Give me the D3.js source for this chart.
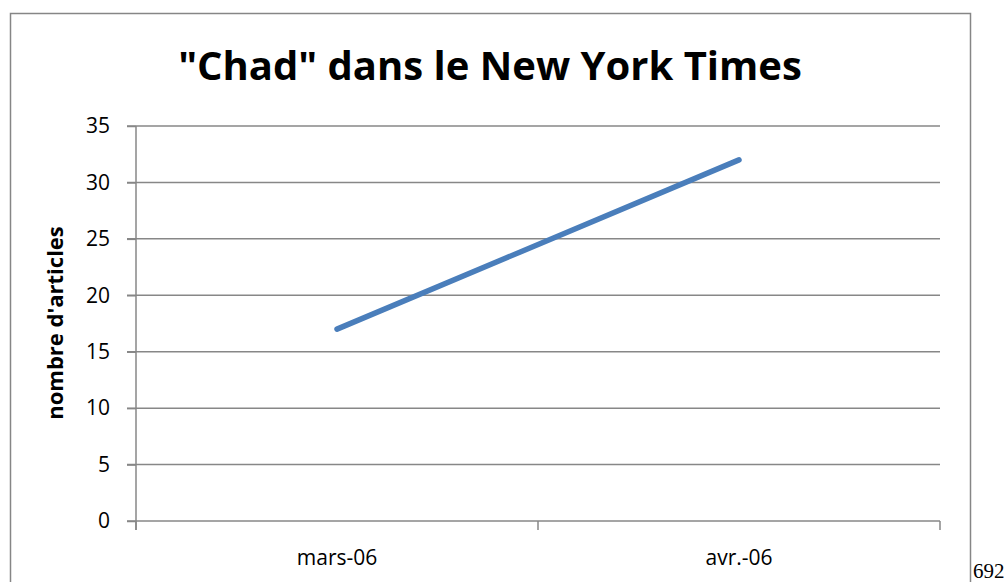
<!DOCTYPE html>
<html>
<head>
<script src="https://d3js.org/d3.v7.min.js"></script>
<style>
  body { margin: 0; background: #fff; }
</style>
</head>
<body>
<div id="container"></div>
<script>
var categories = ["mars-06", "avr.-06"];
var articles = [17, 32];
var yTicks = [0, 5, 10, 15, 20, 25, 30, 35];

var width = 1008, height = 582;
var plotLeft = 136, plotRight = 940, plotTop = 126, plotBottom = 521;
var font = "'Open Sans', sans-serif";

var svg = d3.select("#container").append("svg")
  .attr("width", width)
  .attr("height", height);

// chart frame
svg.append("rect")
  .attr("x", 10.5).attr("y", 13.5)
  .attr("width", 960).attr("height", 570)
  .attr("fill", "#fff")
  .attr("stroke", "#868686")
  .attr("stroke-width", 1.5);

var x = d3.scaleBand().domain(categories).range([plotLeft, plotRight]);
var y = d3.scaleLinear().domain([0, 35]).range([plotBottom, plotTop]);

// gridlines
svg.append("g")
  .selectAll("line")
  .data(yTicks)
  .enter().append("line")
  .attr("x1", plotLeft - 9).attr("x2", plotRight)
  .attr("y1", function(d) { return y(d); })
  .attr("y2", function(d) { return y(d); })
  .attr("stroke", "#878787")
  .attr("stroke-width", 1.5);

// y axis
var yAxis = svg.append("g")
  .attr("transform", "translate(" + plotLeft + ",0)")
  .call(d3.axisLeft(y).tickValues(yTicks).tickSize(9).tickPadding(17));
yAxis.select(".domain").remove();
yAxis.append("line")
  .attr("y1", plotTop).attr("y2", plotBottom + 9)
  .attr("stroke", "#878787").attr("stroke-width", 1.5);
yAxis.selectAll(".tick line").attr("stroke", "#878787").attr("stroke-width", 1.5);
yAxis.selectAll("text")
  .attr("fill", "#000")
  .style("font-family", font)
  .style("font-size", "21px");

// x axis
var xAxis = svg.append("g")
  .attr("transform", "translate(0," + plotBottom + ")")
  .call(d3.axisBottom(x).tickSize(0).tickPadding(29));
xAxis.select(".domain").remove();
xAxis.selectAll("text")
  .attr("fill", "#000")
  .style("font-family", font)
  .style("font-size", "21px");
var xEdges = [plotLeft].concat(categories.map(function(c) { return x(c) + x.bandwidth(); }));
xAxis.selectAll(".edge")
  .data(xEdges)
  .enter().append("line")
  .attr("x1", function(d) { return d; })
  .attr("x2", function(d) { return d; })
  .attr("y1", 0).attr("y2", 9)
  .attr("stroke", "#878787").attr("stroke-width", 1.5);

// line
var line = d3.line()
  .x(function(d, i) { return x(categories[i]) + x.bandwidth() / 2; })
  .y(function(d) { return y(d); });

svg.append("path")
  .datum(articles)
  .attr("d", line)
  .attr("fill", "none")
  .attr("stroke", "#4a7ebb")
  .attr("stroke-width", 5.5)
  .attr("stroke-linecap", "round");

// title
svg.append("text")
  .attr("x", 490).attr("y", 80)
  .attr("text-anchor", "middle")
  .style("font-family", font)
  .style("font-weight", "bold")
  .style("font-size", "40px")
  .text("\"Chad\" dans le New York Times");

// y axis label
svg.append("text")
  .attr("transform", "translate(63,323) rotate(-90)")
  .attr("text-anchor", "middle")
  .style("font-family", font)
  .style("font-weight", "bold")
  .style("font-size", "22px")
  .text("nombre d'articles");

// page number
svg.append("text")
  .attr("x", 973).attr("y", 578)
  .style("font-family", "'Liberation Serif', 'DejaVu Serif', serif")
  .style("font-size", "21px")
  .text("692");
</script>
</body>
</html>
